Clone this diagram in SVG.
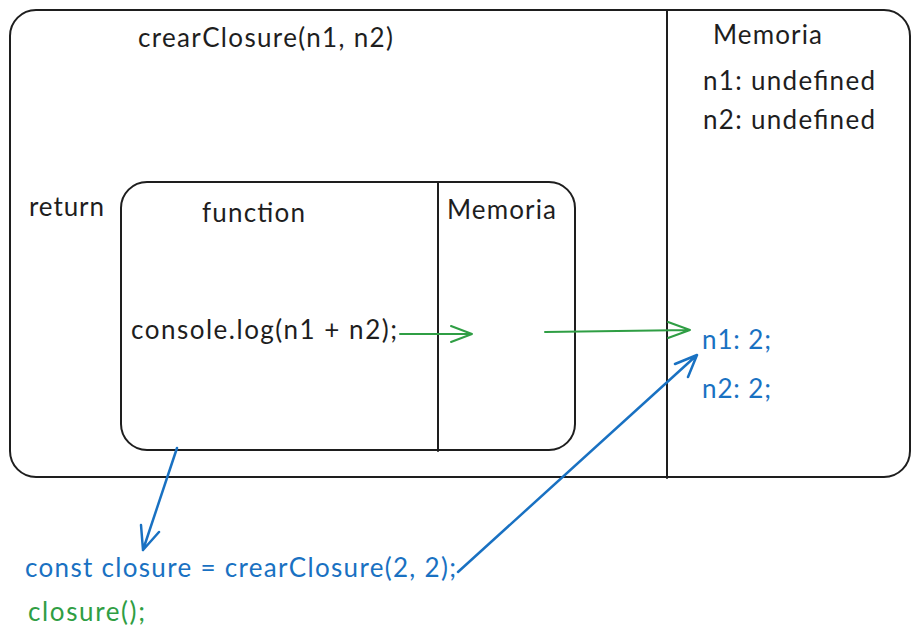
<svg xmlns="http://www.w3.org/2000/svg" width="918" height="642" viewBox="0 0 918 642">
<style>
.box{fill:none;stroke:#1e1e1e;stroke-width:2;stroke-linecap:round}
.t{font-family:Lato,"Open Sans",sans-serif;font-size:26px;fill:#1e1e1e}
.b{fill:#1971c2}
.g{fill:#2f9e44}
.ab{fill:none;stroke:#1971c2;stroke-width:2.5;stroke-linecap:round;stroke-linejoin:round}
.ag{fill:none;stroke:#2f9e44;stroke-width:2;stroke-linecap:round;stroke-linejoin:round}
</style>
<rect width="918" height="642" fill="#ffffff"/>
<g id="outer">
<rect class="box" x="10" y="10" width="900" height="467" rx="26"/>
<line class="box" x1="667" y1="11" x2="667" y2="478"/>
<text class="t" x="138" y="47" textLength="255" lengthAdjust="spacing">crearClosure(n1, n2)</text>
<text class="t" x="713" y="44" textLength="109" lengthAdjust="spacing">Memoria</text>
<text class="t" x="703" y="90" textLength="172" lengthAdjust="spacing">n1: undefined</text>
<text class="t" x="703" y="129" textLength="172" lengthAdjust="spacing">n2: undefined</text>
<text class="t" x="29" y="216" textLength="75" lengthAdjust="spacing">return</text>
<text class="t b" x="702" y="349" textLength="69" lengthAdjust="spacing">n1: 2;</text>
<text class="t b" x="702" y="398" textLength="69" lengthAdjust="spacing">n2: 2;</text>
</g>
<g id="inner">
<rect class="box" x="121" y="182" width="454" height="268" rx="26"/>
<line class="box" x1="438" y1="183" x2="438" y2="451"/>
<text class="t" x="202" y="222" textLength="103" lengthAdjust="spacing">function</text>
<text class="t" x="447" y="219" textLength="109" lengthAdjust="spacing">Memoria</text>
<text class="t" x="131" y="339" textLength="266" lengthAdjust="spacing">console.log(n1 + n2);</text>
</g>
<g id="code">
<text class="t b" x="25" y="577" textLength="431" lengthAdjust="spacing">const closure = crearClosure(2, 2);</text>
<text class="t g" x="28" y="621" textLength="117" lengthAdjust="spacing">closure();</text>
</g>
<g id="connectors">
<path class="ag" d="M400 334 L472 334 M451 326 L472 334 L451 342"/>
<path class="ag" d="M545 332 L690 330 M668 322 L690 330 L668 338"/>
<path class="ab" d="M177 448 L143 550 M141 525 L143 550 L159 532"/>
<path class="ab" d="M458 572 L697 355 M675 364 L697 355 L688 377"/>
</g>
</svg>
